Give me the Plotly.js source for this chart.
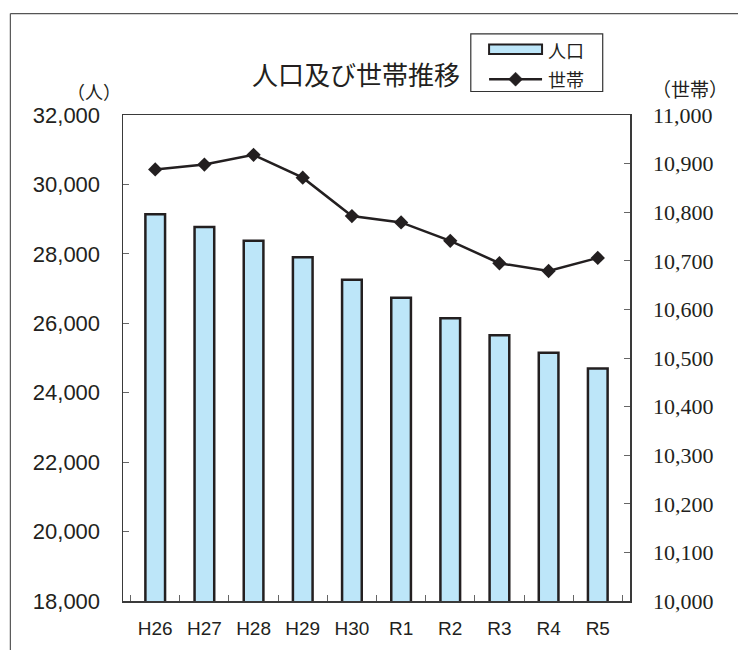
<!DOCTYPE html>
<html>
<head>
<meta charset="utf-8">
<script src="https://cdn.plot.ly/plotly-3.0.1.min.js"></script>
<style>html,body{margin:0;padding:0;background:#fff;}#chart{width:738px;height:650px;}</style>
</head>
<body>
<div id="chart"></div>
<script>
// ---- data ----
const categories = ["H26","H27","H28","H29","H30","R1","R2","R3","R4","R5"];
const population = [29140, 28777, 28376, 27904, 27255, 26739, 26143, 25656, 25150, 24701];
const households = [10888, 10898, 10918, 10871, 10792, 10779, 10741, 10695, 10679, 10706];
const titleText = "人口及び世帯推移";
const popLabel = "人口";
const hhLabel = "世帯";
const leftUnit = "（人）";
const rightUnit = "（世帯）";

// ---- layout geometry ----
const W = 738, H = 650;
const M = {l: 122.7, r: 108, t: 114.5, b: 49.3};
const pw = W - M.l - M.r, ph = H - M.t - M.b;
const px = v => (v - M.l) / pw;
const py = v => (H - M.b - v) / ph;

const ink = "#231f20";
const barFill = "#bde6f9";
const cjk = "'Noto Sans CJK JP', 'Noto Sans', sans-serif";
const sans = "'Liberation Sans', Arial, sans-serif";
const serif = "'Liberation Serif', 'DejaVu Serif', serif";

const traces = [
  {
    type: "bar", x: categories, y: population, name: popLabel,
    marker: {color: barFill, line: {color: ink, width: 2.5}},
    yaxis: "y", showlegend: false, hoverinfo: "x+y"
  },
  {
    type: "scatter", mode: "lines+markers", x: categories, y: households, name: hhLabel,
    line: {color: ink, width: 2.5},
    marker: {symbol: "diamond", size: 11, color: ink},
    yaxis: "y2", showlegend: false, hoverinfo: "x+y"
  }
];

// legend box geometry (pixels)
const lg = {x0: 470.7, x1: 602.7, y0: 33.3, y1: 91};
const sw = {x0: 489, x1: 542, y0: 44, y1: 53.5};
const lineY = 78.7, dx = 515.5, dr = 7;

const layout = {
  width: W, height: H,
  margin: {l: M.l, r: M.r, t: M.t, b: M.b, pad: 0},
  paper_bgcolor: "#fff", plot_bgcolor: "#fff",
  bargap: 0.6,
  showlegend: false,
  font: {family: sans, color: ink, size: 19},
  xaxis: {
    type: "category",
    showline: true, linecolor: "#3a3a3a", linewidth: 1.5, mirror: true,
    ticks: "inside", tickson: "boundaries", ticklen: 6, tickcolor: "#666", tickwidth: 1,
    tickfont: {family: sans, size: 19, color: ink},
    ticklabelstandoff: 10,
    showgrid: false, zeroline: false, fixedrange: true
  },
  yaxis: {
    range: [18000, 32000], dtick: 2000, tick0: 18000, tickformat: ",d",
    showline: true, linecolor: "#3a3a3a", linewidth: 1.5,
    ticks: "inside", ticklen: 6, tickcolor: "#666", tickwidth: 1,
    tickfont: {family: sans, size: 22, color: ink},
    ticklabelstandoff: 17,
    showgrid: false, zeroline: false, fixedrange: true
  },
  yaxis2: {
    overlaying: "y", side: "right",
    range: [10000, 11000], dtick: 100, tick0: 10000, tickformat: ",d",
    showline: true, linecolor: "#3a3a3a", linewidth: 1.5,
    ticks: "inside", ticklen: 6, tickcolor: "#666", tickwidth: 1,
    tickfont: {family: serif, size: 22, color: ink},
    ticklabelstandoff: 17,
    showgrid: false, zeroline: false, fixedrange: true
  },
  shapes: [
    // outer frame (top + left)
    {type: "line", xref: "paper", yref: "paper", x0: px(10), x1: px(W + 5), y0: py(13), y1: py(13), line: {color: "#555", width: 1.2}},
    {type: "line", xref: "paper", yref: "paper", x0: px(10), x1: px(10), y0: py(13), y1: py(H + 5), line: {color: "#555", width: 1.2}},
    // legend box
    {type: "rect", xref: "paper", yref: "paper", x0: px(lg.x0), x1: px(lg.x1), y0: py(lg.y0), y1: py(lg.y1), line: {color: "#333", width: 1.2}, fillcolor: "#fff"},
    // bar swatch
    {type: "rect", xref: "paper", yref: "paper", x0: px(sw.x0), x1: px(sw.x1), y0: py(sw.y0), y1: py(sw.y1), line: {color: ink, width: 2}, fillcolor: barFill},
    // line swatch
    {type: "line", xref: "paper", yref: "paper", x0: px(489), x1: px(542), y0: py(lineY), y1: py(lineY), line: {color: ink, width: 2.5}},
    {type: "path", xref: "paper", yref: "paper",
     path: `M ${px(dx - dr)} ${py(lineY)} L ${px(dx)} ${py(lineY - dr)} L ${px(dx + dr)} ${py(lineY)} L ${px(dx)} ${py(lineY + dr)} Z`,
     fillcolor: ink, line: {color: ink, width: 0.5}}
  ],
  annotations: [
    {text: titleText, xref: "paper", yref: "paper", x: px(356), y: py(73), xanchor: "center", yanchor: "middle", showarrow: false,
     font: {family: cjk, size: 26, color: ink}},
    {text: popLabel, xref: "paper", yref: "paper", x: px(546), y: py(49), xanchor: "left", yanchor: "middle", showarrow: false,
     font: {family: cjk, size: 18, color: ink}},
    {text: hhLabel, xref: "paper", yref: "paper", x: px(546), y: py(78.7), xanchor: "left", yanchor: "middle", showarrow: false,
     font: {family: cjk, size: 18, color: ink}},
    {text: leftUnit, xref: "paper", yref: "paper", x: px(94), y: py(90), xanchor: "center", yanchor: "middle", showarrow: false,
     font: {family: cjk, size: 18, color: ink}},
    {text: rightUnit, xref: "paper", yref: "paper", x: px(690), y: py(88), xanchor: "center", yanchor: "middle", showarrow: false,
     font: {family: cjk, size: 19, color: ink}}
  ]
};

Plotly.newPlot("chart", traces, layout, {displayModeBar: false, staticPlot: true});
</script>
</body>
</html>
